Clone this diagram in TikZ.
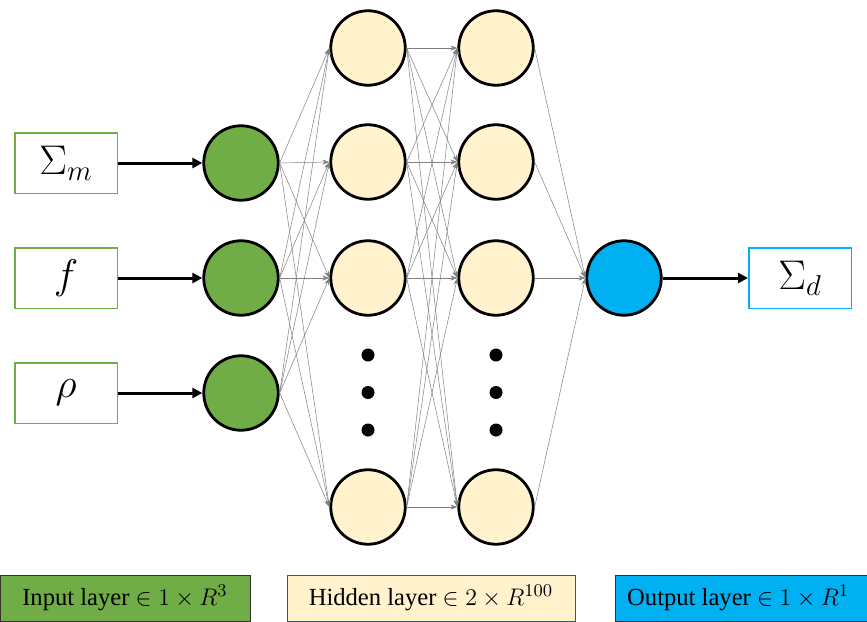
\documentclass[tikz,border=0pt]{standalone}
\usepackage{fontspec}
\setmainfont{Liberation Serif}
\usetikzlibrary{arrows.meta}
\definecolor{ingreen}{HTML}{70AD47}
\definecolor{hid}{HTML}{FFF2CC}
\definecolor{outblue}{HTML}{00B0F0}
\definecolor{hidborder}{HTML}{2F5597}
\definecolor{conn}{HTML}{7F7F7F}
\newcommand{\bigvar}[1]{\scalebox{2}{\fontsize{20}{24}\selectfont$#1$}}
\newcommand{\legtxt}[1]{\scalebox{2}{\fontsize{12.3}{14}\selectfont #1}}
\begin{document}
\begin{tikzpicture}[x=1pt,y=-1pt,
  neuron/.style={circle,draw=black,line width=2.8pt,minimum size=74.5pt,inner sep=0pt},
  innode/.style={neuron,fill=ingreen},
  hidnode/.style={neuron,fill=hid},
  outnode/.style={neuron,fill=outblue},
  varbox/.style={rectangle,line width=1.5pt,minimum width=102.5pt,minimum height=60.5pt,inner sep=0pt},
  legbox/.style={rectangle,line width=0.8pt,minimum height=46pt,inner sep=0pt},
  legtext/.style={inner sep=0pt},
  thinarrow/.style={draw=conn,line width=0.5pt,-{Stealth[length=7pt,width=5pt]}},
  thickarrow/.style={draw=black,line width=3pt,-{Triangle[length=10pt,width=10pt]}},
  dotmark/.style={circle,fill=black,minimum size=13pt,inner sep=0pt}
]
\useasboundingbox (0,0) rectangle (867,621);
\clip (0,0) rectangle (867,621);

% input variable boxes
\node[varbox,draw=ingreen] (i1) at (66,163) {\bigvar{\Sigma_m}};
\node[varbox,draw=ingreen] (i2) at (66,278) {\bigvar{f}};
\node[varbox,draw=ingreen] (i3) at (66,393) {\bigvar{\rho}};

% input neurons
\node[innode] (g1) at (241,163) {};
\node[innode] (g2) at (241,278) {};
\node[innode] (g3) at (241,393) {};

% hidden layer 1
\node[hidnode] (a1) at (368,48) {};
\node[hidnode] (a2) at (368,162) {};
\node[hidnode] (a3) at (368,278) {};
\node[hidnode] (a4) at (368,507) {};
% hidden layer 2
\node[hidnode] (b1) at (496,48) {};
\node[hidnode] (b2) at (496,162) {};
\node[hidnode] (b3) at (496,278) {};
\node[hidnode] (b4) at (496,507) {};

% output neuron and box
\node[outnode] (o) at (624,278) {};
\node[varbox,draw=outblue] (ob) at (800,278) {\bigvar{\Sigma_d}};

% dots
\node[dotmark] (d1) at (368,355) {};
\node[dotmark] (d2) at (368,392.5) {};
\node[dotmark] (d3) at (368,430) {};
\node[dotmark] (e1) at (496,355) {};
\node[dotmark] (e2) at (496,392.5) {};
\node[dotmark] (e3) at (496,430) {};

% thin connections
\foreach \s in {g1,g2,g3}{
  \foreach \t in {a1,a2,a3,a4}{
    \draw[thinarrow] (\s.east) -- (\t.west);
  }
}
\foreach \s in {a1,a2,a3,a4}{
  \foreach \t in {b1,b2,b3,b4}{
    \draw[thinarrow] (\s.east) -- (\t.west);
  }
}
\foreach \s in {b1,b2,b3,b4}{
  \draw[thinarrow] (\s.east) -- (o.west);
}

% thick arrows
\draw[thickarrow] (i1.east) -- (g1.west);
\draw[thickarrow] (i2.east) -- (g2.west);
\draw[thickarrow] (i3.east) -- (g3.west);
\draw[thickarrow] (o.east) -- (ob.west);

% legend
\node[legbox,draw=black!80,fill=ingreen,minimum width=250pt] (L1) at (125,598) {};
\node[legtext] (T1) at (L1.center) {\legtxt{Input layer $\in 1\times R^{3}$}};
\node[legbox,draw=hidborder,fill=hid,minimum width=288pt] (L2) at (431,598) {};
\node[legtext] (T2) at (L2.center) {\legtxt{Hidden layer $\in 2\times R^{100}$}};
\node[legbox,draw=black!80,fill=outblue,minimum width=280pt,anchor=west] (L3) at (615,598) {};
\node[legtext,anchor=west] (T3) at (627,598) {\legtxt{Output layer $\in 1\times R^{1}$}};
\end{tikzpicture}
\end{document}
